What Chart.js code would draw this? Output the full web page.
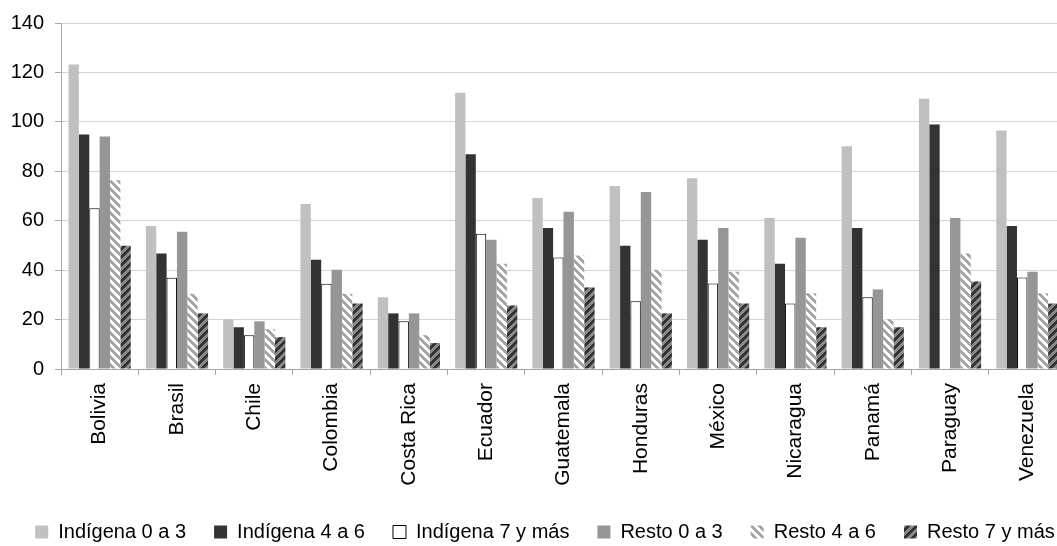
<!DOCTYPE html>
<html>
<head>
<meta charset="utf-8">
<script src="https://cdn.jsdelivr.net/npm/chart.js@4/dist/chart.umd.min.js"></script>
<style>
  html, body { margin: 0; padding: 0; background: #fff; overflow: hidden; }
  #wrap { width: 1090px; height: 560px; }
</style>
</head>
<body>
<div id="wrap"><canvas id="c" width="1090" height="560"></canvas></div>
<script>
// Categories and series values
const categories = ['Bolivia', 'Brasil', 'Chile', 'Colombia', 'Costa Rica', 'Ecuador', 'Guatemala',
  'Honduras', 'México', 'Nicaragua', 'Panamá', 'Paraguay', 'Venezuela'];
const indigena03 = [123.2, 57.9, 20.1, 66.8, 29.0, 111.8, 69.2, 74.0, 77.2, 61.1, 90.1, 109.4, 96.5];
const indigena46 = [94.9, 46.7, 16.9, 44.2, 22.5, 86.9, 57.1, 49.9, 52.3, 42.6, 57.1, 98.9, 57.9];
const indigena7 = [65.0, 36.9, 13.7, 34.5, 19.3, 54.7, 45.1, 27.4, 34.6, 26.5, 29.0, null, 37.0];
const resto03 = [94.1, 55.5, 19.3, 40.2, 22.5, 52.3, 63.6, 71.6, 57.1, 53.1, 32.2, 61.1, 39.4];
const resto46 = [76.4, 30.4, 16.1, 30.4, 13.7, 42.6, 45.9, 40.2, 39.4, 30.6, 20.1, 46.7, 30.6];
const resto7 = [49.9, 22.5, 12.9, 26.5, 10.5, 25.7, 33.0, 22.5, 26.5, 16.9, 16.9, 35.4, 26.5];
const seriesNames = ['Indígena 0 a 3', 'Indígena 4 a 6', 'Indígena 7 y más', 'Resto 0 a 3', 'Resto 4 a 6', 'Resto 7 y más'];
const yTicks = [0, 20, 40, 60, 80, 100, 120, 140];

// Diagonal hatch fill: dir 'down' = "\\" stripes, 'up' = "//" stripes
function hatch(bg, fg, dir) {
  const size = 8;
  const c = document.createElement('canvas');
  c.width = size; c.height = size;
  const g = c.getContext('2d');
  g.fillStyle = bg;
  g.fillRect(0, 0, size, size);
  g.fillStyle = fg;
  for (let y = 0; y < size; y++) {
    for (let x = 0; x < size; x++) {
      const k = dir === 'down' ? (x - y + 2 * size) % size : (x + y) % size;
      if (k < 4) g.fillRect(x, y, 1, 1);
    }
  }
  return g.createPattern(c, 'repeat');
}

const FONT = "'Liberation Sans', Arial, sans-serif";
const fills = [
  '#c0c0c0',
  '#333333',
  '#ffffff',
  '#969696',
  hatch('#ffffff', '#a4a4a4', 'down'),
  hatch('#8a8a8a', '#333333', 'up')
];
const values = [indigena03, indigena46, indigena7, resto03, resto46, resto7];

const datasets = values.map((v, i) => ({
  label: seriesNames[i],
  data: v,
  backgroundColor: fills[i],
  borderColor: i === 2 ? '#000000' : fills[i],
  borderWidth: i === 2 ? 1 : 0,
  categoryPercentage: 0.805,
  barPercentage: 1.0
}));

new Chart(document.getElementById('c'), {
  type: 'bar',
  data: { labels: categories, datasets },
  options: {
    responsive: false,
    animation: false,
    devicePixelRatio: 1,
    layout: { padding: { left: 0, right: 0, top: 21, bottom: 8 } },
    plugins: {
      tooltip: { enabled: false },
      legend: {
        position: 'bottom',
        align: 'center',
        labels: {
          boxWidth: 13,
          boxHeight: 13,
          padding: 28,
          color: '#000',
          font: { family: FONT, size: 20 }
        }
      }
    },
    scales: {
      x: {
        grid: {
          offset: true,
          drawOnChartArea: false,
          drawTicks: true,
          tickLength: 6,
          tickColor: '#a6a6a6'
        },
        border: { color: '#a6a6a6', width: 1 },
        ticks: {
          autoSkip: false,
          minRotation: 90,
          maxRotation: 90,
          padding: 8,
          color: '#000',
          font: { family: FONT, size: 21 }
        },
        afterFit: (s) => { s.height = 125; }
      },
      y: {
        min: 0,
        max: 140,
        afterBuildTicks: (s) => { s.ticks = yTicks.map(v => ({ value: v })); },
        grid: {
          color: '#d4d4d4',
          tickColor: '#a6a6a6',
          tickLength: 6,
          lineWidth: 1
        },
        border: { color: '#a6a6a6', width: 1 },
        ticks: {
          padding: 11,
          color: '#000',
          font: { family: FONT, size: 20 }
        },
        afterFit: (s) => { s.width = 61; }
      },
      // empty right-hand margin scale: keeps the plot narrower than the legend row
      side: {
        type: 'linear',
        position: 'right',
        display: true,
        grid: { display: false, drawTicks: false },
        border: { display: false },
        ticks: { display: false },
        afterFit: (s) => { s.width = 24; }
      }
    }
  }
});
</script>
</body>
</html>
